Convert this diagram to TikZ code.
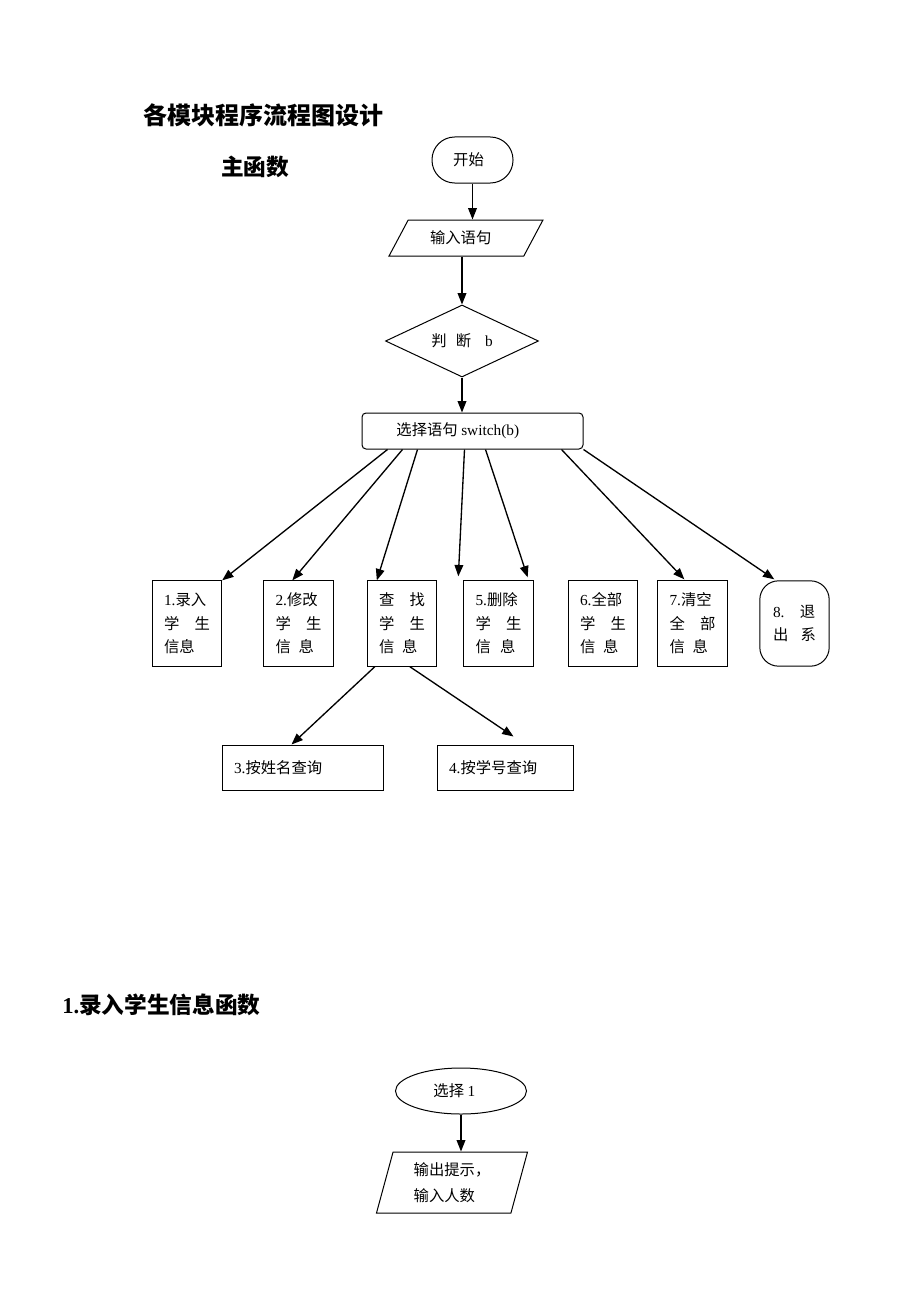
\documentclass[tikz,border=0pt]{standalone}
\usepackage{fontspec}
\setmainfont{Liberation Serif}
\newfontfamily\cjk{Noto Sans CJK SC}
\usetikzlibrary{shapes.geometric,arrows.meta,calc}
\newcommand\rmn[1]{{\rmfamily #1}}

\tikzset{
  txt/.style={font=\cjk\fontsize{11.5}{17.6}\selectfont},
  box/.style={txt,draw,line width=0.75pt,inner sep=0pt,align=left},
  tallbox/.style={box,minimum width=52pt,minimum height=64pt},
  arr/.style={line width=1pt,-{Triangle[length=8.5pt,width=6.5pt]}},
  heading/.style={anchor=west,inner sep=0pt},
}

\begin{document}
\begin{tikzpicture}[x=0.75pt,y=-0.75pt]
  \useasboundingbox[fill=white] (0,0) rectangle (920,1302);
  % headings
  \node[heading,font=\cjk\bfseries\fontsize{18}{20}\selectfont] (title) at (143,115) {各模块程序流程图设计};
  \node[heading,font=\cjk\bfseries\fontsize{17}{20}\selectfont] (mainfn) at (221,167) {主函数};
  % main function
  \node[box,rounded corners=17pt,minimum width=60.75pt,minimum height=34.5pt] (start) at (472.5,160) {开始\hspace{6pt}};
  \node[box,trapezium,trapezium left angle=50,trapezium right angle=130,trapezium stretches=true,
        minimum width=115.5pt,minimum height=27pt] (input) at (466,238) {输入语句\hspace{8pt}};
  \node[draw,line width=0.75pt,diamond,inner sep=0pt,minimum width=114.75pt,minimum height=54pt] (judge) at (462,341) {};
  \node[txt] (judgetxt) at (judge) {判\hspace{0.6em}断\hspace{0.9em}\rmn{b}};
  \node[box,rounded corners=3pt,minimum width=165.75pt,minimum height=27pt] (switch) at (472.5,431) {选择语句 \rmn{switch(b)}\hspace{22pt}};
  % cases
  \node[tallbox] (b1) at (187,623.5) {\rmn{1.}录入\\学\hspace{1em}生\\信息};
  \node[tallbox] (b2) at (298.5,623.5) {\rmn{2.}修改\\学\hspace{1em}生\\信\hspace{0.5em}息};
  \node[tallbox] (b3) at (402,623.5) {查\hspace{1em}找\\学\hspace{1em}生\\信\hspace{0.5em}息};
  \node[tallbox] (b5) at (498.5,623.5) {\rmn{5.}删除\\学\hspace{1em}生\\信\hspace{0.6em}息};
  \node[tallbox] (b6) at (603,623.5) {\rmn{6.}全部\\学\hspace{1em}生\\信\hspace{0.5em}息};
  \node[tallbox] (b7) at (692.5,623.5) {\rmn{7.}清空\\全\hspace{1em}部\\信\hspace{0.5em}息};
  \node[tallbox,rounded corners=14pt] (b8) at (794.5,623.5) {\rmn{8.}\hspace{1em}退\\出\hspace{0.8em}系};
  \node[box,minimum height=33.75pt,text width=102.75pt,inner xsep=9pt] (q1) at (302.5,767.5) {\rmn{3.}按姓名查询};
  \node[box,minimum height=33.75pt,text width=84pt,inner xsep=9pt] (q2) at (505,767.5) {\rmn{4.}按学号查询};
  \draw[arr] (start.south) -- (start.south |- input.north);
  \draw[arr] (input.south -| judge.north) -- (judge.north);
  \draw[arr] (judge.south) -- (judge.south |- switch.north);
  \draw[arr] ($(switch.south west)+(26,0)$) -- (b1.north east);
  \draw[arr] ($(switch.south west)+(41,0)$) -- ($(b2.north west)+(29,0)$);
  \draw[arr] ($(switch.south west)+(56,0)$) -- ($(b3.north west)+(10,0)$);
  \draw[arr] ($(switch.south west)+(103,0)$) -- ($(b5.north west)+(-5,-4)$);
  \draw[arr] ($(switch.south west)+(124,0)$) -- ($(b5.north east)+(-6,-3)$);
  \draw[arr] ($(switch.south west)+(200,0)$) -- ($(b7.north west)+(27,-1)$);
  \draw[arr] (switch.south east) -- ($(b8.north west)+(15,-1)$);
  \draw[arr] ($(b3.south west)+(8,0)$) -- ($(q1.north west)+(70,0)$);
  \draw[arr] ($(b3.south west)+(43,0)$) -- ($(q2.north west)+(77,-8)$);
  % input function
  \node[heading,font=\cjk\bfseries\fontsize{17}{20}\selectfont] (inputfn) at (62,1005) {\rmn{1.}录入学生信息函数};
  \node[box,ellipse,minimum width=98.25pt,minimum height=34.5pt] (sel) at (461,1091) {选择 \rmn{1}\hspace{10pt}};
  \node[box,trapezium,trapezium left angle=75,trapezium right angle=105,trapezium stretches=true,
        minimum width=114pt,minimum height=45.75pt,font=\cjk\fontsize{11.5}{19.5}\selectfont] (out) at (452,1182.5) {输出提示，\\输入人数};
  \draw[arr] (sel.south) -- (sel.south |- out.north);
\end{tikzpicture}
\end{document}
